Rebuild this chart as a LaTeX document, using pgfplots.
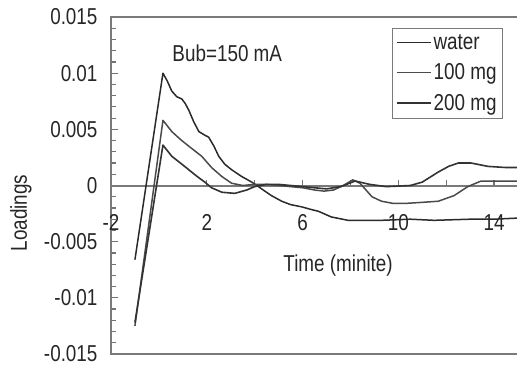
\documentclass[border=0pt]{standalone}
\usepackage{fontspec}
\setmainfont{Liberation Sans}[FakeStretch=0.82]
\usepackage{pgfplots}
\usepackage{pgfplotstable}
\pgfplotsset{compat=1.18}
\usetikzlibrary{calc}
\newcommand{\ff}{\fontsize{23}{27}\selectfont}
\definecolor{axgray}{HTML}{7A7A7A}
\definecolor{cwater}{HTML}{2A2A2A}
\definecolor{cb}{HTML}{4A4A4A}
\definecolor{cc}{HTML}{333333}

\pgfplotstableread{
x y
-1 -0.0066
0.17 0.0100
0.35 0.0093
0.54 0.0084
0.75 0.0079
0.96 0.0077
1.1 0.0073
1.25 0.0067
1.45 0.0057
1.67 0.0048
1.9 0.0045
2.08 0.0043
2.3 0.0035
2.5 0.0026
2.75 0.0019
3.04 0.0014
3.46 0.0008
3.88 0.0003
4.1 0.0000
4.29 -0.0003
4.7 -0.0009
5.13 -0.0014
5.5 -0.0017
5.96 -0.0019
6.3 -0.0021
6.67 -0.0023
7.2 -0.0028
7.9 -0.0031
9.3 -0.0031
10.5 -0.0030
11.5 -0.0031
13 -0.0030
14 -0.0030
15 -0.0029
}\water

\pgfplotstableread{
x y
-1 -0.0125
0.17 0.0058
0.54 0.0048
0.9 0.0041
1.25 0.0035
1.79 0.0026
2.2 0.0016
2.63 0.0008
3.04 0.0002
3.5 0.0000
4.0 0.0001
4.5 0.0001
5.0 0.0000
5.5 -0.0001
6.0 -0.0002
6.5 -0.0004
6.9 -0.0005
7.3 -0.0004
7.7 0.0000
8.1 0.0005
8.4 0.0002
8.9 -0.0010
9.3 -0.0014
9.8 -0.0016
10.25 -0.0016
11.0 -0.0015
11.67 -0.0014
12.33 -0.0009
12.9 -0.0001
13.46 0.0004
14.4 0.0004
15 0.0004
}\mgone

\pgfplotstableread{
x y
-1 -0.0122
0.17 0.0036
0.54 0.0026
0.9 0.0020
1.25 0.0014
1.6 0.0008
1.92 0.0003
2.2 -0.0002
2.63 -0.0006
3.17 -0.0007
3.67 -0.0004
4.0 -0.0001
4.5 0.0001
5.0 0.0001
5.5 0.0000
6.0 -0.0001
6.5 -0.0002
7.0 -0.0003
7.6 -0.0001
8.2 0.0004
8.8 0.0001
9.5 -0.0001
10.5 0.0000
11.0 0.0003
11.67 0.0012
12.1 0.0017
12.5 0.0020
13.04 0.0020
13.75 0.0017
14.5 0.0016
15 0.0016
}\mgtwo

\begin{document}
\begin{tikzpicture}
\begin{axis}[
  scale only axis, width=407pt, height=337pt,
  xmin=-2, xmax=15, ymin=-0.015, ymax=0.015,
  axis line style={axgray, line width=2pt},
  xtick={-2,2,6,10,14},
  ytick={-0.015,-0.01,-0.005,0,0.005,0.01,0.015},
  minor y tick num=4,
  ytick pos=left, xtick pos=bottom,
  tick align=inside,
  major tick length=7pt, minor tick length=5pt,
  ytick style={black!55, line width=1.2pt},
  xtick style={draw=none},
  scaled y ticks=false,
  yticklabel style={/pgf/number format/fixed, /pgf/number format/precision=3, xshift=-10pt},
  tick label style={font=\ff, text=black!85, /pgf/number format/assume math mode=true},
  xticklabel style={yshift=143pt},
  xlabel={Time (minite)},
  every axis x label/.style={at={(rel axis cs:0.558,0.261)}, anchor=center, font=\ff, text=black!85},
  ylabel={Loadings},
  every axis y label/.style={at={(rel axis cs:0,0.418)}, xshift=-90pt, rotate=90, anchor=center, font=\ff, text=black!85},
  legend style={at={(rel axis cs:0.69,0.967)}, anchor=north west, draw=axgray,
    font=\ff, text=black!85, inner sep=4pt, row sep=9pt, cells={anchor=west}},
  legend image code/.code={\draw[#1] (0pt,0pt) -- (34pt,0pt);},
  clip=false,
]
\draw[axgray, line width=2pt] (axis cs:-2,0) -- (axis cs:15,0);
\pgfplotsinvokeforeach{2,4,6,8,10,12,14}{\draw[black!55, line width=1.2pt] (axis cs:#1,0) -- ++(0pt,6pt);}
\addplot[cwater, line width=1.5pt, line join=round] table {\water};
\addlegendentry{water}
\addplot[cb, line width=1.5pt, line join=round] table {\mgone};
\addlegendentry{100 mg}
\addplot[cc, line width=1.6pt, line join=round] table {\mgtwo};
\addlegendentry{200 mg}
\node[anchor=west, font=\ff, text=black!85] at (axis cs:0.42,0.0118) {Bub=150 mA};
\coordinate (BL) at (rel axis cs:0,0);
\coordinate (TR) at (rel axis cs:1,1);
\end{axis}
\pgfresetboundingbox
\path ($(BL)+(-111pt,-13pt)$) rectangle ($(TR)+(-1pt,17pt)$);
\end{tikzpicture}
\end{document}
